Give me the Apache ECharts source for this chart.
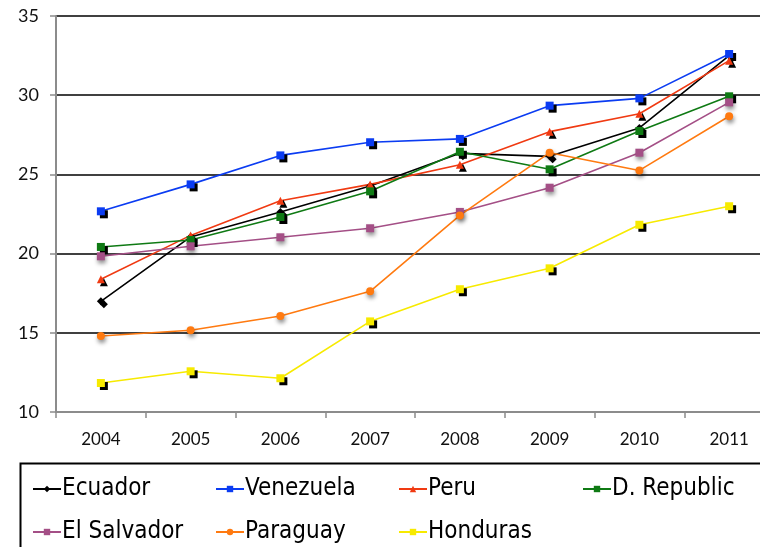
<!DOCTYPE html>
<html><head><meta charset="utf-8">
<script src="https://cdn.jsdelivr.net/npm/echarts@6/dist/echarts.min.js"></script>
<style>html,body{margin:0;padding:0;background:#fff;overflow:hidden;width:760px;height:547px}#c{width:774px;height:547px}</style>
</head><body><div id="c"></div>
<script>
const years = ['2004','2005','2006','2007','2008','2009','2010','2011'];
const ecuador    = [16.99, 21.05, 22.63, 24.27, 26.33, 26.14, 27.93, 32.50];
const venezuela  = [22.67, 24.37, 26.20, 27.03, 27.24, 29.34, 29.80, 32.60];
const peru       = [18.38, 21.15, 23.34, 24.37, 25.61, 27.70, 28.83, 32.18];
const drepublic  = [20.42, 20.86, 22.31, 23.93, 26.43, 25.32, 27.74, 29.93];
const elsalvador = [19.83, 20.46, 21.03, 21.60, 22.63, 24.16, 26.37, 29.55];
const paraguay   = [14.80, 15.16, 16.06, 17.62, 22.41, 26.37, 25.25, 28.67];
const honduras   = [11.83, 12.57, 12.13, 15.72, 17.75, 19.07, 21.82, 22.99];
const yTicks = [10, 15, 20, 25, 30, 35];

const FONT = 'Lato';
const LFONT = '"Liberation Sans Narrow", "DejaVu Sans Condensed", Lato';
const defs = [
  {name:'Ecuador', data:ecuador, color:'#000000', symbol:'diamond', size:8, hard:true},
  {name:'Venezuela', data:venezuela, color:'#0b3cf2', symbol:'rect', size:8, hard:true},
  {name:'Peru', data:peru, color:'#f03a12', symbol:'triangle', size:8, hard:true},
  {name:'D. Republic', data:drepublic, color:'#0f7a14', symbol:'rect', size:8, hard:true},
  {name:'El Salvador', data:elsalvador, color:'#a44f86', symbol:'rect', size:8, hard:false},
  {name:'Paraguay', data:paraguay, color:'#ff7a10', symbol:'circle', size:8, hard:false},
  {name:'Honduras', data:honduras, color:'#f7ea00', symbol:'rect', size:8, hard:true}
];
const series = defs.map(d => ({
  name: d.name, type:'line', data:d.data, symbol:d.symbol, symbolSize:d.size,
  showAllSymbol:true, animation:false,
  lineStyle:{color:d.color, width:1.6},
  itemStyle: d.hard ? {color:d.color, shadowColor:'#000', shadowBlur:0, shadowOffsetX:3, shadowOffsetY:3}
                    : {color:d.color, shadowColor:'rgba(0,0,0,0.45)', shadowBlur:4, shadowOffsetX:1, shadowOffsetY:3}
}));
const legendPos = [[32,477],[215,477],[398,477],[582,477],[32,520],[215,520],[398,520]];
const legends = defs.map((d,i) => ({
  data:[d.name], left:legendPos[i][0], top:legendPos[i][1], itemWidth:28, itemHeight:8, itemGap:0,
  padding:0,
  textStyle:{fontFamily:LFONT, fontSize:24, color:'#000', padding:[0,0,0,-4]}, selectedMode:false,
  itemStyle:{shadowBlur:0, shadowOffsetX:0, shadowOffsetY:0}
}));
const chart = echarts.init(document.getElementById('c'), null, {renderer:'canvas'});
chart.setOption({
  animation:false,
  backgroundColor:'#fff',
  grid:{left:56, top:16, bottom:135, right:0, containLabel:false},
  xAxis:{type:'category', data:years, boundaryGap:true,
    axisLine:{lineStyle:{color:'#8c8c8c', width:2}},
    axisTick:{show:true, length:6, lineStyle:{color:'#8c8c8c', width:1.5}},
    axisLabel:{fontFamily:FONT, fontSize:17, color:'#111', margin:19},
    splitLine:{show:false}},
  yAxis:{type:'value', min:10, max:35, interval:5,
    axisLine:{show:true, lineStyle:{color:'#8c8c8c', width:2}},
    axisTick:{show:true, length:6, lineStyle:{color:'#8c8c8c', width:1.5}},
    axisLabel:{fontFamily:FONT, fontSize:18, color:'#111', margin:17,
      formatter: v => yTicks.includes(v) ? String(v) : ''},
    splitLine:{show:true, lineStyle:{color:'#000', width:1.6}}},
  legend:legends,
  graphic:[{type:'rect', left:18, top:461, shape:{x:0,y:0,width:770,height:100},
    style:{fill:'none', stroke:'#000', lineWidth:2}, z:-1}],
  series:series
});
</script></body></html>
